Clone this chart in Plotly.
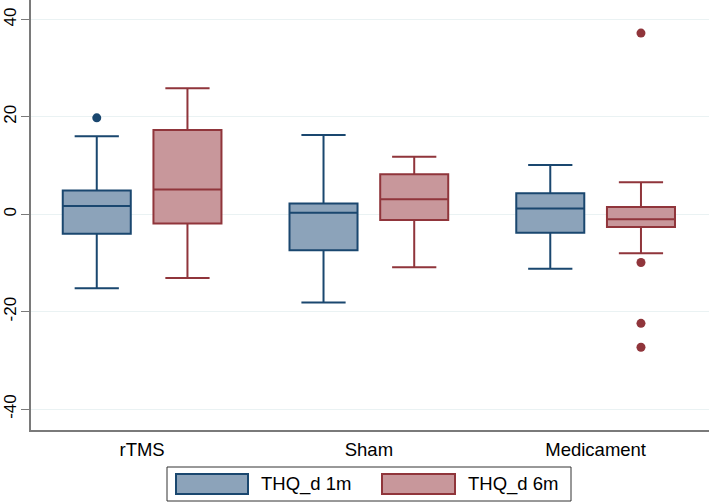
import plotly.graph_objects as go

# ---- data ----
categories = ["rTMS", "Sham", "Medicament"]
series_names = ["THQ_d 1m", "THQ_d 6m"]

m1_lower = [-15.2, -18.1, -11.2]
m1_q1 = [-4.0, -7.4, -3.8]
m1_median = [1.7, 0.3, 1.2]
m1_q3 = [4.9, 2.2, 4.3]
m1_upper = [16.0, 16.3, 10.1]
m1_out_cat = [1]
m1_out_val = [19.8]

m6_lower = [-13.1, -10.9, -8.0]
m6_q1 = [-1.9, -1.2, -2.6]
m6_median = [5.1, 3.1, -1.0]
m6_q3 = [17.3, 8.2, 1.5]
m6_upper = [25.9, 11.8, 6.6]
m6_out_cat = [3, 3, 3, 3]
m6_out_val = [37.2, -9.9, -22.4, -27.3]

y_ticks = [-40, -20, 0, 20, 40]

# ---- styles ----
blue_line, blue_fill = "#1A476F", "#8CA3BA"
red_line, red_fill = "#90353B", "#C8979B"
offset = 0.2
pos = [1, 2, 3]

fig = go.Figure()

def add_series(lower, q1, med, q3, upper, dx, line, fill, name):
    fig.add_trace(go.Box(
        x=[p + dx for p in pos], lowerfence=lower, q1=q1, median=med, q3=q3,
        upperfence=upper, name=name, width=0.3, whiskerwidth=0.65,
        line=dict(color=line, width=2), fillcolor=fill,
        boxpoints=False, showlegend=False, hoverinfo="skip"))

add_series(m1_lower, m1_q1, m1_median, m1_q3, m1_upper, -offset, blue_line, blue_fill, series_names[0])
add_series(m6_lower, m6_q1, m6_median, m6_q3, m6_upper, offset, red_line, red_fill, series_names[1])

fig.add_trace(go.Scatter(x=[c - offset for c in m1_out_cat], y=m1_out_val, mode="markers",
                         marker=dict(color=blue_line, size=9), showlegend=False, hoverinfo="skip"))
fig.add_trace(go.Scatter(x=[c + offset for c in m6_out_cat], y=m6_out_val, mode="markers",
                         marker=dict(color=red_line, size=9), showlegend=False, hoverinfo="skip"))

fig.update_layout(
    width=709, height=502,
    margin=dict(l=31, r=0, t=0, b=72),
    paper_bgcolor="white", plot_bgcolor="white",
    boxmode="overlay",
    font=dict(family="Liberation Sans, Arial, sans-serif", size=18, color="black"),
    xaxis=dict(range=[0.51, 3.5], tickvals=pos, ticktext=categories, ticks="",
               showgrid=False, zeroline=False, showline=True, linecolor="#7a7a7a",
               linewidth=1.5, tickfont=dict(size=18.5), automargin=False,
               ticklabelstandoff=2),
    yaxis=dict(range=[-44.3, 44.0], tickvals=y_ticks, ticktext=[str(v) for v in y_ticks],
               tickangle=-90, ticks="outside", ticklen=8, tickcolor="#7a7a7a",
               showgrid=True, gridcolor="#EAF2F3", gridwidth=1.2, zeroline=False,
               showline=True, linecolor="#7a7a7a", linewidth=1.5, tickfont=dict(size=17),
               automargin=False, ticklabelstandoff=-2),
)

# ---- hand-built legend (Stata style, wide swatches) ----
def px_x(px):
    return (px - 31) / 678.0

def px_y(py):
    return (430 - py) / 430.0

fig.add_shape(type="rect", xref="paper", yref="paper",
              x0=px_x(167), x1=px_x(571), y0=px_y(467), y1=px_y(501),
              line=dict(color="#333333", width=1), fillcolor="white", layer="above")
for (x0, x1, line, fill, tx, name) in [
        (176, 248, blue_line, blue_fill, 259, series_names[0]),
        (382, 455, red_line, red_fill, 466, series_names[1])]:
    fig.add_shape(type="rect", xref="paper", yref="paper",
                  x0=px_x(x0), x1=px_x(x1), y0=px_y(474), y1=px_y(494),
                  line=dict(color=line, width=2), fillcolor=fill, layer="above")
    fig.add_annotation(xref="paper", yref="paper", x=px_x(tx), y=px_y(484),
                       text=name, showarrow=False, xanchor="left", yanchor="middle",
                       font=dict(size=18.5, color="black"))

fig.write_html("out.html", config={"displayModeBar": False},
               post_script="document.body.style.margin='0';document.body.style.overflow='hidden';")
